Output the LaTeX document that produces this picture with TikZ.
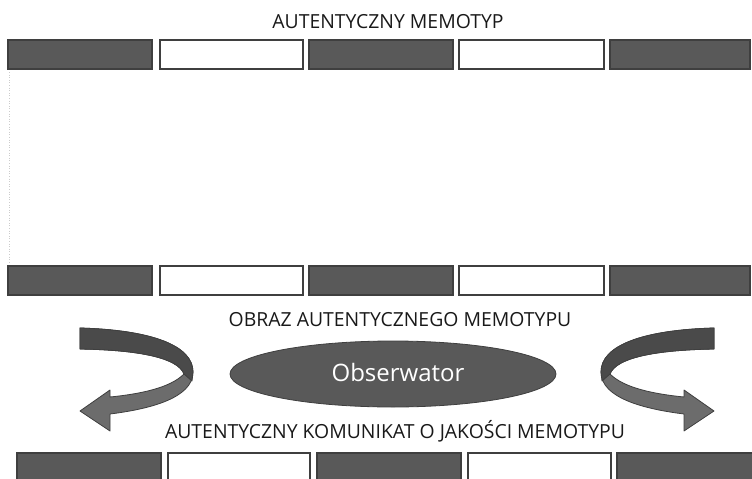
\documentclass[tikz,border=0pt]{standalone}
\usepackage{fontspec}
\setmainfont{Open Sans}
\usetikzlibrary{shapes.geometric}
\definecolor{boxdark}{HTML}{595959}
\definecolor{boxline}{HTML}{3F3F3F}
\definecolor{banddark}{HTML}{4A4A4A}
\definecolor{bandlight}{HTML}{6C6C6C}
\tikzset{
  darkbox/.style={fill=boxdark, draw=boxline, line width=1.2pt},
  whitebox/.style={fill=white, draw=boxline, line width=1.5pt},
  label/.style={font=\fontsize{19.4}{22}\selectfont, text=black!90, anchor=base, inner sep=0pt},
  ribbon/.style={draw=boxline, line width=0.8pt, line join=round},
}
\newcommand{\twistarrow}{%
  \path[ribbon, fill=bandlight]
    (80,328) .. controls (150,330) and (193,345) .. (193,372)
    .. controls (193,398) and (150,409) .. (110,414)
    -- (110,431) -- (80,411) -- (110,390) -- (110,397)
    .. controls (140,394) and (170,388) .. (184,374)
    .. controls (178,358) and (140,350) .. (80,349) -- cycle;
  \path[ribbon, fill=banddark]
    (80,328) .. controls (150,330) and (193,345) .. (193,372)
    -- (192,381) -- (184,374)
    .. controls (178,358) and (140,350) .. (80,349) -- cycle;
}
\begin{document}
\begin{tikzpicture}[x=1pt, y=-1pt]
\useasboundingbox (0,0) rectangle (752,479);
% top row
\path[darkbox]  (8,40)   rectangle (152,69);
\path[whitebox] (160,40) rectangle (303,69);
\path[darkbox]  (309,40) rectangle (453,69);
\path[whitebox] (459,40) rectangle (604,69);
\path[darkbox]  (610,40) rectangle (750,69);
% faint dotted guide
\draw[black!20, dotted, line width=0.6pt] (9,72) -- (9,263);
% middle row
\path[darkbox]  (8,266)   rectangle (152,295);
\path[whitebox] (160,266) rectangle (303,295);
\path[darkbox]  (309,266) rectangle (453,295);
\path[whitebox] (459,266) rectangle (604,295);
\path[darkbox]  (610,266) rectangle (750,295);
% bottom row
\path[darkbox]  (17,453)  rectangle (161,492);
\path[whitebox] (168,453) rectangle (310,492);
\path[darkbox]  (317,453) rectangle (461,492);
\path[whitebox] (468,453) rectangle (611,492);
\path[darkbox]  (617,453) rectangle (762,492);
% labels
\node[label] (t1) at (388,28) {AUTENTYCZNY MEMOTYP};
\node[label] (t2) at (400,326) {OBRAZ AUTENTYCZNEGO MEMOTYPU};
\node[label] (t3) at (395,438) {AUTENTYCZNY KOMUNIKAT O JAKOŚCI MEMOTYPU};
% observer
\node[ellipse, fill=boxdark, draw=boxline, line width=0.8pt,
      minimum width=326pt, minimum height=66pt, inner sep=0pt] (obs) at (393,374) {};
\node[font=\fontsize{24}{27}\selectfont, text=white, anchor=base, inner sep=0pt] (obst) at (398,381) {Obserwator};
% arrows
\begin{scope}
\twistarrow
\end{scope}
\begin{scope}[xshift=794pt, xscale=-1]
\twistarrow
\end{scope}
\end{tikzpicture}
\end{document}
